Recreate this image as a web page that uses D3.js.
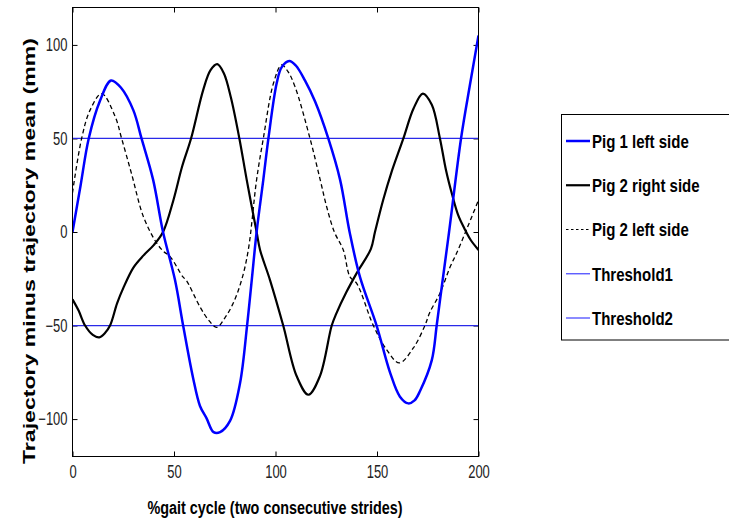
<!DOCTYPE html>
<html>
<head>
<meta charset="utf-8">
<script src="https://cdn.jsdelivr.net/npm/d3@7"></script>
<style>
  body { margin: 0; background: #fff; }
  svg { display: block; }
  .tick text { font-family: "Liberation Sans", Arial, sans-serif; font-size: 18px; fill: #222; }
  .lbl { font-family: "Liberation Sans", Arial, sans-serif; font-weight: bold; fill: #000; }
  .leg { font-family: "Liberation Sans", Arial, sans-serif; font-weight: bold; font-size: 19px; fill: #000; }
</style>
</head>
<body>
<svg id="chart" width="729" height="520"></svg>
<script>
// series as [%gait cycle, mm]
var pig1Left = [[0,0],[4,25],[8,50],[13.5,70],[19,81],[24,77],[30,65],[34,50],[39.7,28],[44.6,0],
  [50.5,-25.7],[54.5,-50],[59.4,-78],[62.8,-93],[66,-99.5],[69.5,-107],[72.7,-107],[77.6,-101],[82.5,-81],
  [86,-50],[88.3,-25.7],[90.7,0],[94,28],[96.5,50],[100.6,79.6],[103,88],[106.8,91.4],[110,89],[114.5,81],
  [119.5,69.7],[126,50],[131.8,28],[136.5,0],[141.6,-24],[149.8,-50],[156.4,-75],[161.3,-88],[165.4,-91.6],
  [168.5,-90],[171.2,-85],[177,-68.5],[179.4,-50],[181.2,-35],[185.5,0],[191.4,50],[196,80],[200,105]];

var pig2Right = [[0,-36],[3,-42],[6.2,-50],[10,-55],[13.2,-56.3],[16,-54],[18.5,-50],[22,-38],[25,-30],
  [30,-19],[35,-12.5],[40,-7],[44.6,0],[49.7,17],[54,35],[58.4,50],[64.4,76],[68,86.5],[71.3,89.7],[74.5,85],
  [78,72],[82.2,50],[85.8,28],[90.7,0],[92.4,-9.6],[97.3,-25.7],[103.8,-50],[110.4,-77],[116.2,-87],
  [121.9,-77],[127.7,-50],[130,-43.5],[135,-32],[140,-22],[147,-9],[149,0],[153,17],[157,31.5],[163,50],
  [168,66],[172.6,74],[177,68],[181,50],[184,33],[187,20],[190,9],[193,2],[196,-4],[200,-9.6]];

var pig2Left = [[0,21],[4.5,50],[8.6,65],[14.4,74],[21,61.7],[24.2,50],[29,31.5],[35,8],[41.5,-6],[45,-10.5],
  [48,-13],[54.4,-24],[56,-25.7],[62.8,-40],[67,-47],[71,-51],[75,-46],[79.2,-38],[83.3,-25.7],[86.6,-9.6],
  [90.7,28],[94,50],[99,79.5],[103,89.3],[106,86],[109.6,77.7],[117,50],[122,28],[125.2,13.5],[129,0],
  [133.4,-9.6],[136.7,-24],[140,-27.5],[148.2,-50],[154.8,-63],[161,-70],[167.9,-62],[173.6,-50],[176,-43],
  [181,-32.8],[186,-18.7],[189.2,-11.4],[194,1],[200,17]];

var thresholds = [50, -50];
var xTicks = [0, 50, 100, 150, 200];
var yTicks = [-100, -50, 0, 50, 100];
var legendNames = ["Pig 1 left side", "Pig 2 right side", "Pig 2 left side", "Threshold1", "Threshold2"];

var svg = d3.select("#chart");
var m = { left: 72.5, top: 7.5, right: 478.5, bottom: 456.5 };

var x = d3.scaleLinear().domain([0, 200]).range([m.left, m.right]);
var y = d3.scaleLinear().domain([-120, 120]).range([m.bottom, m.top]);

// the original font is a narrow helvetica, squeeze glyphs to get close
function squeeze(sel, k) {
  sel.each(function() {
    var w = this.getComputedTextLength();
    d3.select(this).attr("textLength", w * k).attr("lengthAdjust", "spacingAndGlyphs");
  });
}

var g = svg.append("g");

// axes with inward ticks on all four sides, like matlab
var tickLen = 5;
g.append("g").attr("transform", "translate(0," + m.bottom + ")")
  .call(d3.axisBottom(x).tickValues(xTicks).tickSize(-tickLen).tickPadding(9));
g.append("g").attr("transform", "translate(0," + m.top + ")")
  .call(d3.axisTop(x).tickValues(xTicks).tickSize(-tickLen).tickFormat(""));
g.append("g").attr("transform", "translate(" + m.left + ",0)")
  .call(d3.axisLeft(y).tickValues(yTicks).tickSize(-tickLen).tickPadding(5).tickFormat(function(d) { return d < 0 ? "\u2212" + (-d) : d; }));
g.append("g").attr("transform", "translate(" + m.right + ",0)")
  .call(d3.axisRight(y).tickValues(yTicks).tickSize(-tickLen).tickFormat(""));
g.selectAll(".domain").remove();
g.selectAll(".tick line").attr("stroke", "#000");
squeeze(g.selectAll(".tick text"), 0.72);

svg.append("clipPath").attr("id", "plotclip").append("rect")
  .attr("x", m.left).attr("y", m.top).attr("width", m.right - m.left).attr("height", m.bottom - m.top);

var plot = svg.append("g").attr("clip-path", "url(#plotclip)");

thresholds.forEach(function(t) {
  plot.append("line")
    .attr("x1", x(0)).attr("x2", x(200))
    .attr("y1", y(t)).attr("y2", y(t))
    .attr("stroke", "#2a2ae8").attr("stroke-width", 1.3);
});

var line = d3.line()
  .x(function(d) { return x(d[0]); })
  .y(function(d) { return y(d[1]); })
  .curve(d3.curveCatmullRom.alpha(0.5));

plot.append("path").datum(pig2Left).attr("d", line)
  .attr("fill", "none").attr("stroke", "#000").attr("stroke-width", 1.3).attr("stroke-dasharray", "4.5,3");
plot.append("path").datum(pig2Right).attr("d", line)
  .attr("fill", "none").attr("stroke", "#000").attr("stroke-width", 2.2);
plot.append("path").datum(pig1Left).attr("d", line)
  .attr("fill", "none").attr("stroke", "#0000ff").attr("stroke-width", 2.5);

// frame
svg.append("rect")
  .attr("x", m.left).attr("y", m.top).attr("width", m.right - m.left).attr("height", m.bottom - m.top)
  .attr("fill", "none").attr("stroke", "#000").attr("stroke-width", 1);

// axis titles
svg.append("text").attr("class", "lbl")
  .attr("x", 275).attr("y", 514).attr("text-anchor", "middle")
  .style("font-size", "18px")
  .attr("textLength", 255).attr("lengthAdjust", "spacingAndGlyphs")
  .text("%gait cycle (two consecutive strides)");

svg.append("text").attr("class", "lbl")
  .attr("transform", "translate(35,251) rotate(-90)")
  .attr("text-anchor", "middle")
  .style("font-size", "17px")
  .attr("textLength", 426).attr("lengthAdjust", "spacingAndGlyphs")
  .text("Trajectory minus trajectory mean (mm)");

// legend
var legStyles = [
  { stroke: "#0000ff", width: 2.5, dash: null },
  { stroke: "#000", width: 2.2, dash: null },
  { stroke: "#000", width: 1.2, dash: "2.5,2.5" },
  { stroke: "#4d4dff", width: 1.3, dash: null },
  { stroke: "#4d4dff", width: 1.3, dash: null }
];
var leg = svg.append("g");
leg.append("rect").attr("x", 561.5).attr("y", 114.5).attr("width", 200).attr("height", 225.5)
  .attr("fill", "#fff").attr("stroke", "#000").attr("stroke-width", 1);

var ly = d3.scalePoint().domain(legendNames).range([141, 318]);
legendNames.forEach(function(name, i) {
  var s = legStyles[i];
  leg.append("line").attr("x1", 566).attr("x2", 590).attr("y1", ly(name)).attr("y2", ly(name))
    .attr("stroke", s.stroke).attr("stroke-width", s.width).attr("stroke-dasharray", s.dash);
  leg.append("text").attr("class", "leg").attr("x", 592).attr("y", ly(name)).attr("dy", "0.36em").text(name);
});
squeeze(leg.selectAll("text"), 0.79);
</script>
</body>
</html>
